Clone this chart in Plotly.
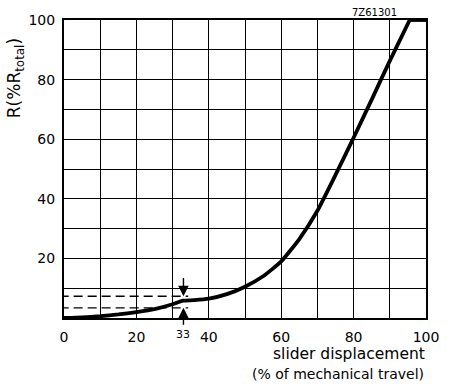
import plotly.graph_objects as go

# slider displacement (% of travel) vs resistance (% of R total)
travel = [0, 5, 10, 15, 20, 25, 30, 32, 33, 36, 40, 45, 50, 55, 60, 65, 70, 75, 80, 85, 90, 95.5, 100]
resistance = [0, 0.2, 0.6, 1.2, 2.0, 3.0, 4.6, 5.5, 5.8, 6.0, 6.5, 8.0, 10.5, 14.0, 19.0, 26.5, 36, 48, 60.5, 73.3, 86.3, 100, 100]

x_ticks = [0, 20, 40, 60, 80, 100]
y_ticks = [20, 40, 60, 80, 100]

# tolerance mark at 33 % travel
mark_x = 33
mark_low, mark_high = 3.4, 7.3

FONT = 'DejaVu Sans'
INK = 'black'

fig = go.Figure()
# rising part drawn smooth, the end stop at 100 % straight
fig.add_trace(go.Scatter(x=travel[:-1], y=resistance[:-1], mode='lines',
                         line=dict(color=INK, width=3.8, shape='spline', smoothing=0.5),
                         showlegend=False, hoverinfo='skip'))
fig.add_trace(go.Scatter(x=travel[-2:], y=resistance[-2:], mode='lines',
                         line=dict(color=INK, width=3.8),
                         showlegend=False, hoverinfo='skip'))

axis_common = dict(
    showgrid=True, gridcolor=INK, gridwidth=1.2,
    showline=True, linecolor=INK, linewidth=2, mirror=True,
    ticks='', zeroline=False, fixedrange=True,
    tickfont=dict(family=FONT, size=14, color=INK),
    minor=dict(dtick=10, tick0=0, showgrid=True, gridcolor=INK, gridwidth=1.2),
)
fig.update_xaxes(range=[0, 100], tickvals=x_ticks, ticklabelstandoff=5, **axis_common)
fig.update_yaxes(range=[0, 100], tickvals=y_ticks, ticklabelstandoff=4, **axis_common)

# dashed guide lines for the tolerance band
for level in (mark_low, mark_high):
    fig.add_shape(type='line', xref='x', yref='y', x0=-1.2, x1=mark_x + 1.3, y0=level, y1=level,
                  line=dict(color=INK, width=1.3, dash='9px,5px'), layer='above')
    fig.add_annotation(x=-2.2, y=level, xref='x', yref='y', text=f'{level}', showarrow=False,
                       xanchor='right', yanchor='middle', font=dict(family=FONT, size=11, color=INK))

# arrows pointing at band limits
fig.add_annotation(x=mark_x, y=mark_high, ax=mark_x, ay=mark_high + 7, xref='x', yref='y',
                   axref='x', ayref='y', text=' ', showarrow=True, arrowhead=2, arrowsize=1.5,
                   arrowwidth=1.4, arrowcolor=INK, font=dict(size=2))
fig.add_annotation(x=mark_x, y=mark_low, ax=mark_x, ay=mark_low - 6.5, xref='x', yref='y',
                   axref='x', ayref='y', text=' ', showarrow=True, arrowhead=2, arrowsize=1.5,
                   arrowwidth=1.4, arrowcolor=INK, font=dict(size=2))
fig.add_annotation(x=mark_x, y=0, xref='x', yref='y', yshift=-8, text=str(mark_x), showarrow=False,
                   xanchor='center', yanchor='top', font=dict(family=FONT, size=11, color=INK))

# axis titles (pixel positions, converted below)
fig.add_annotation(x=15, y=76, xref='paper', yref='paper',
                   text='R(%R<sub>total</sub>)', xanchor='center', yanchor='middle',
                   showarrow=False, textangle=-90, font=dict(family=FONT, size=17, color=INK))
fig.add_annotation(x=433, y=354, xref='paper', yref='paper', text='slider displacement',
                   showarrow=False, xanchor='right', yanchor='middle',
                   font=dict(family=FONT, size=15.5, color=INK))
fig.add_annotation(x=432, y=375, xref='paper', yref='paper', text='(% of mechanical travel)',
                   showarrow=False, xanchor='right', yanchor='middle',
                   font=dict(family=FONT, size=14, color=INK))
fig.add_annotation(x=380, y=9, xref='paper', yref='paper', text='7Z61301', showarrow=False,
                   xanchor='center', yanchor='middle', font=dict(family=FONT, size=10, color=INK))

fig.update_layout(
    width=451, height=387,
    margin=dict(l=64, r=19, t=17, b=69),
    paper_bgcolor='white', plot_bgcolor='white',
    font=dict(family=FONT, color=INK),
)

# annotations above were placed in pixel terms; convert to paper fractions
W, H = 451, 387
pw, ph = W - 64 - 19, H - 17 - 69
for ann in fig.layout.annotations:
    if ann.xref == 'paper':
        ann.x = (ann.x - 64) / pw
        ann.y = (H - 69 - ann.y) / ph

fig.write_html('out.html', config={'displayModeBar': False},
               post_script="document.body.style.margin='0px';")
